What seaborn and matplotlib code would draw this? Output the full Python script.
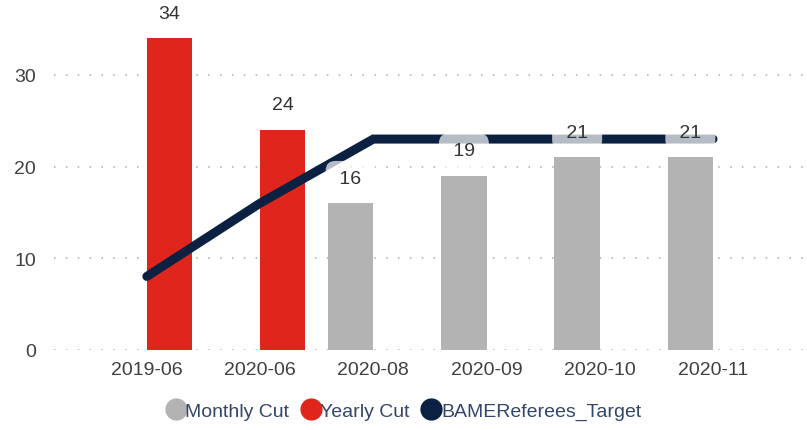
import numpy as np
import pandas as pd
import matplotlib
matplotlib.use("Agg")
import matplotlib.pyplot as plt
from matplotlib.lines import Line2D
import seaborn as sns

# Data
periods = ["2019-06", "2020-06", "2020-08", "2020-09", "2020-10", "2020-11"]
monthly_cut = [None, None, 16, 19, 21, 21]
yearly_cut = [34, 24, None, None, None, None]
target = [8, 16, 23, 23, 23, 23]
series_names = ["Monthly Cut", "Yearly Cut", "BAMEReferees_Target"]
y_ticks = [0, 10, 20, 30]

GREY = "#b3b3b3"
RED = "#e0261c"
NAVY = "#0c2142"

sns.set_theme(style="white")
plt.rcParams["font.family"] = ["Liberation Sans", "DejaVu Sans"]

rows = []
for p, m, y in zip(periods, monthly_cut, yearly_cut):
    if m is not None:
        rows.append({"period": p, "series": series_names[0], "value": m})
    if y is not None:
        rows.append({"period": p, "series": series_names[1], "value": y})
bars = pd.DataFrame(rows)

fig = plt.figure(figsize=(8.07, 4.31), dpi=100)
ax = fig.add_axes([54 / 807, 1 - 350.7 / 431, 1 - 54 / 807, (350.7 - 2.7) / 431])

sns.barplot(
    data=bars, x="period", y="value", hue="series",
    order=periods, hue_order=series_names[:2],
    palette={series_names[0]: GREY, series_names[1]: RED},
    saturation=1, width=0.8, dodge=True, linewidth=0, legend=False,
    ax=ax, zorder=2,
)

# Target line drawn at the category centres
sns.lineplot(x=np.arange(len(periods)), y=target, color=NAVY, linewidth=6.5,
             ax=ax, zorder=3, solid_capstyle="round", solid_joinstyle="miter")

# Value labels above bars; the grey-bar labels sit on a translucent white box
for bc in ax.containers:
    for rect in bc:
        h = rect.get_height()
        if np.isnan(h):
            continue
        cx = rect.get_x() + rect.get_width() / 2
        label = f"{int(h)}"
        kw = {}
        if rect.get_facecolor()[0] < 0.8:  # grey bars
            label = f" {int(h)} "
            kw["bbox"] = dict(boxstyle="round,pad=0.45,rounding_size=0.5",
                              fc="white", ec="none", alpha=0.7)
        ax.annotate(label, (cx, h), xytext=(0, 18), textcoords="offset points",
                    ha="center", va="center", fontsize=14, color="#333333",
                    zorder=4, **kw)

ax.set_ylim(0, 38)
ax.set_xlim(-0.82, 5.83)
ax.set_yticks(y_ticks)
ax.set_xlabel("")
ax.set_ylabel("")
ax.grid(axis="y", color="#bdbdbd", linewidth=1.4, linestyle=(0, (0.8, 5.3)), zorder=0)
ax.grid(axis="x", visible=False)
ax.set_axisbelow(True)
for s in ax.spines.values():
    s.set_visible(False)
ax.tick_params(axis="both", length=0, labelsize=14, labelcolor="#404040")
ax.tick_params(axis="y", pad=13)
ax.tick_params(axis="x", pad=8)

handles = [
    Line2D([], [], marker="o", linestyle="", markersize=15, color=c)
    for c in (GREY, RED, NAVY)
]
leg = fig.legend(handles, series_names, loc="center", bbox_to_anchor=(0.5, 1 - 412 / 431),
                 ncol=3, frameon=False, fontsize=14, handletextpad=0.0,
                 columnspacing=0.6, handlelength=1.0, borderaxespad=0)
for t in leg.get_texts():
    t.set_color("#34466a")

fig.savefig("out.png", dpi=100)
